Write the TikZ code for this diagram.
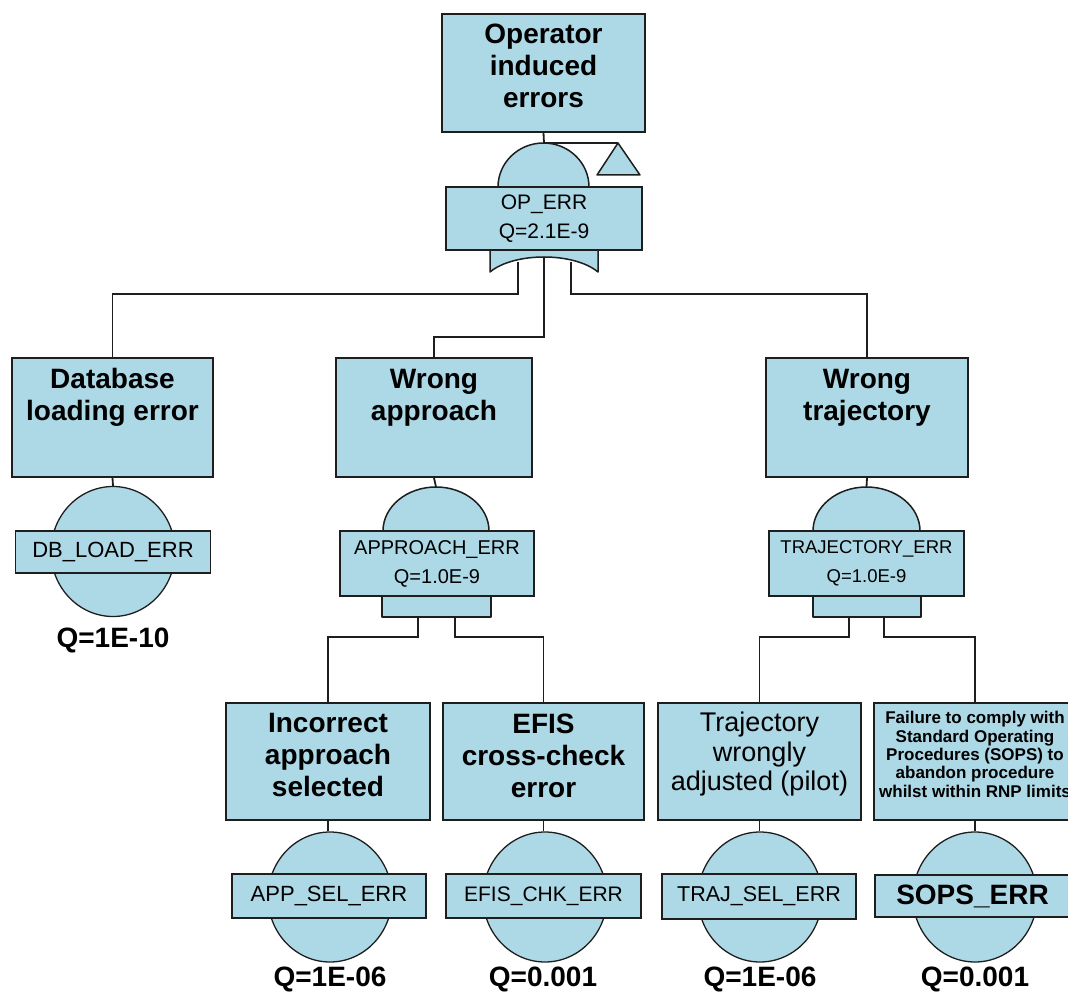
\documentclass[tikz,border=0pt]{standalone}
\usepackage{fontspec}
\setmainfont{Liberation Sans}
\usetikzlibrary{shapes.geometric,calc}
\definecolor{ftblue}{RGB}{173,216,230}
\definecolor{ftline}{RGB}{30,30,30}
\pgfdeclarelayer{wires}
\pgfsetlayers{wires,main}

\begin{document}
\begin{tikzpicture}[x=1pt,y=-1pt,
  box/.style={rectangle,draw=ftline,fill=ftblue,line width=1.7pt,inner sep=0pt},
  gate/.style={draw=ftline,fill=ftblue,line width=1.5pt,line join=round},
  wire/.style={draw=ftline,line width=1.8pt},
  title/.style={anchor=north,align=center,inner sep=0pt,
    font=\bfseries\fontsize{28}{32}\selectfont},
  gatetext/.style={align=center,font=\fontsize{21}{29}\selectfont},
  evtext/.style={font=\fontsize{22}{26}\selectfont},
  event/.style={ellipse,draw=ftline,fill=ftblue,line width=1.3pt,
    minimum width=124pt,minimum height=130pt,inner sep=0pt},
  prob/.style={anchor=base,inner sep=0pt,font=\bfseries\fontsize{28}{30}\selectfont},
]
\useasboundingbox (0,0) rectangle (1068,992);
\clip (0,0) rectangle (1068,992);

% ---------- top event and its OR gate ----------
\node[box,minimum width=203pt,minimum height=118pt] (top) at (543.5,73) {};
\node[title] (top-t) at ($(top.north)+(0,11)$) {Operator\\induced\\errors};

\path[gate] (498,187) arc[start angle=180,end angle=0,x radius=45.5pt,y radius=44pt] -- cycle;
\path[gate] (490,250) -- (490,272) .. controls (514,252) and (574,252) .. (598,272) -- (598,250) -- cycle;
\node[box,minimum width=196pt,minimum height=63pt,gatetext] (opg) at (544,218.5) {OP\_ERR\\Q=2.1E-9};
\coordinate (og-top) at (544,143);
\coordinate (og-1) at (518,262);
\coordinate (og-2) at (544,252);
\coordinate (og-3) at (571,262);

% transfer symbol
\path[gate] (618,143) -- (640,175) -- (597,175) -- cycle;
\coordinate (xfer) at (618,143);

% ---------- second level ----------
\node[box,minimum width=201pt,minimum height=119pt] (db) at (112.5,417.5) {};
\node[title] (db-t) at ($(db.north)+(0,11)$) {Database\\loading error};

\node[box,minimum width=196pt,minimum height=119pt] (appr) at (434,417.5) {};
\node[title] (appr-t) at ($(appr.north)+(0,12)$) {Wrong\\approach};

\node[box,minimum width=202pt,minimum height=119pt] (traj) at (867,417.5) {};
\node[title] (traj-t) at ($(traj.north)+(0,12)$) {Wrong\\trajectory};

% basic event under the database box
\node[event] (db-e) at (113,551.5) {};
\node[box,minimum width=195pt,minimum height=42pt,evtext] (db-l) at (113,552) {DB\_LOAD\_ERR};
\node[prob] (db-q) at (113,647) {Q=1E-10};

% AND gate: wrong approach
\path[gate] (383,531) arc[start angle=180,end angle=0,x radius=53pt,y radius=44pt] -- cycle;
\path[gate] (382,596) rectangle (491,617);
\node[box,minimum width=194pt,minimum height=65pt,gatetext,font=\fontsize{20}{29}\selectfont] (ag) at (437,563.5) {APPROACH\_ERR\\Q=1.0E-9};
\coordinate (ag-top) at (436,487);
\coordinate (ag-1) at (418,617);
\coordinate (ag-2) at (455,617);

% AND gate: wrong trajectory
\path[gate] (813,531) arc[start angle=180,end angle=0,x radius=53.5pt,y radius=44pt] -- cycle;
\path[gate] (813,596) rectangle (921,617);
\node[box,minimum width=195pt,minimum height=65pt,gatetext,font=\fontsize{18.5}{29}\selectfont] (tg) at (866.5,563.5) {TRAJECTORY\_ERR\\Q=1.0E-9};
\coordinate (tg-top) at (866.5,487);
\coordinate (tg-1) at (849,617);
\coordinate (tg-2) at (884,617);

% ---------- third level ----------
\node[box,minimum width=204pt,minimum height=117pt] (inc) at (328,761.5) {};
\node[title] (inc-t) at ($(inc.north)+(0,11)$) {Incorrect\\approach\\selected};

\node[box,minimum width=201pt,minimum height=117pt] (efis) at (543.5,761.5) {};
\node[title] (efis-t) at ($(efis.north)+(0,12)$) {EFIS\\cross-check\\error};

\node[box,minimum width=203pt,minimum height=117pt] (adj) at (759.5,761.5) {};
\node[title,font=\fontsize{27}{29.5}\selectfont] (adj-t) at ($(adj.north)+(0,10)$) {Trajectory\\wrongly\\adjusted (pilot)};

\node[box,minimum width=202pt,minimum height=117pt] (sops) at (975,761.5) {};
\node[title,font=\bfseries\fontsize{17}{18.4}\selectfont] (sops-t) at ($(sops.north)+(0,9)$) {Failure to comply with\\Standard Operating\\Procedures (SOPS) to\\abandon procedure\\whilst within RNP limits};

% basic events
\node[event] (inc-e) at (330,897) {};
\node[box,minimum width=194pt,minimum height=44pt,evtext] (inc-l) at (329,896) {APP\_SEL\_ERR};
\node[prob] (inc-q) at (330,986) {Q=1E-06};

\node[event] (efis-e) at (545,897) {};
\node[box,minimum width=195pt,minimum height=44pt,evtext,font=\fontsize{21}{26}\selectfont] (efis-l) at (543.5,896) {EFIS\_CHK\_ERR};
\node[prob] (efis-q) at (543,986) {Q=0.001};

\node[event] (adj-e) at (760,897) {};
\node[box,minimum width=194pt,minimum height=45pt,evtext,font=\fontsize{21.5}{26}\selectfont] (adj-l) at (759,896.5) {TRAJ\_SEL\_ERR};
\node[prob] (adj-q) at (760,986) {Q=1E-06};

\node[event] (sops-e) at (975,897) {};
\node[box,minimum width=195pt,minimum height=42pt,font=\bfseries\fontsize{28}{30}\selectfont] (sops-l) at (972.5,896) {SOPS\_ERR};
\node[prob] (sops-q) at (975,986) {Q=0.001};

% ---------- connectors ----------
\begin{pgfonlayer}{wires}
  \draw[wire] (top.south) -- (og-top) -- (xfer);
  \draw[wire] (og-1) -- ++(0,32) -| (db.north);
  \draw[wire] (og-2) -- ++(0,85) -| (appr.north);
  \draw[wire] (og-3) -- ++(0,32) -| (traj.north);

  \draw[wire] (db.south) -- (db-e.north);
  \draw[wire] (appr.south) -- (ag-top);
  \draw[wire] (traj.south) -- (tg-top);

  \draw[wire] (ag-1) -- ++(0,20) -| (inc.north);
  \draw[wire] (ag-2) -- ++(0,20) -| (efis.north);
  \draw[wire] (tg-1) -- ++(0,20) -| (adj.north);
  \draw[wire] (tg-2) -- ++(0,20) -| (sops.north);

  \draw[wire] (inc.south) -- (inc.south |- inc-e.north);
  \draw[wire] (efis.south) -- (efis.south |- efis-e.north);
  \draw[wire] (adj.south) -- (adj.south |- adj-e.north);
  \draw[wire] (sops.south) -- (sops-e.north);
\end{pgfonlayer}
\end{tikzpicture}
\end{document}
